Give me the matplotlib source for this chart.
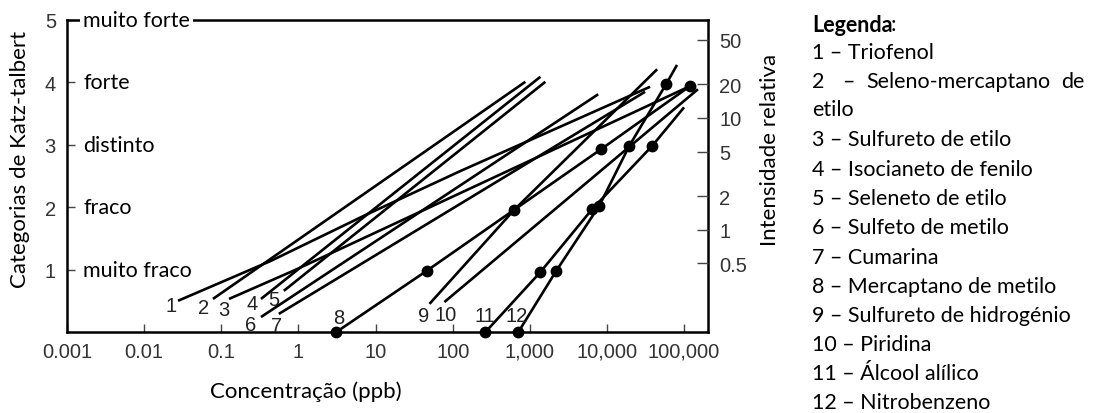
import matplotlib
matplotlib.use("Agg")
import matplotlib.pyplot as plt
import numpy as np

# concentracao (ppb) e categoria Katz-Talbert de cada curva
conc1 = [0.0275, 0.44, 7.0, 126, 2480, 36200]
cat1 = [0.50, 1.14, 1.86, 2.58, 3.29, 3.93]
conc2 = [0.078, 875]
cat2 = [0.53, 4.01]
conc3 = [0.126, 0.93, 119000]
cat3 = [0.53, 1.00, 3.94]
conc4 = [0.327, 1370]
cat4 = [0.53, 4.09]
conc5 = [0.647, 1590]
cat5 = [0.66, 4.01]
conc6 = [0.327, 7700]
cat6 = [0.24, 3.81]
conc7 = [0.557, 31200]
cat7 = [0.29, 3.85]
conc8 = [3.1, 46, 630, 8400, 119000]
cat8 = [0.0, 0.98, 1.96, 2.93, 3.94]
conc9 = [50, 630, 44700]
cat9 = [0.45, 1.96, 4.21]
conc10 = [78, 151000]
cat10 = [0.48, 3.89]
conc11 = [266, 1370, 6440, 38400, 99800]
cat11 = [0.0, 0.96, 1.97, 2.98, 3.6]
conc12 = [710, 2200, 7920, 19400, 58300, 80900]
cat12 = [0.0, 0.98, 2.02, 2.98, 3.97, 4.28]

all_conc = [conc1, conc2, conc3, conc4, conc5, conc6, conc7, conc8, conc9, conc10, conc11, conc12]
all_cat = [cat1, cat2, cat3, cat4, cat5, cat6, cat7, cat8, cat9, cat10, cat11, cat12]
# pontos marcados (indices) em cada curva
dots = {8: [0, 1, 2, 3, 4], 11: [0, 1, 2, 3], 12: [0, 1, 2, 3, 4]}
# deslocamento (pixels) do numero em relacao ao inicio da curva
label_off = [(-7, -5), (-9, -9), (-5, -11), (-9, -5), (-10, -9), (-10, -7),
             (-2, -12), (2, 14), (-6, -12), (1, -12), (-1, 16), (-2, 16)]

categorias = ["muito fraco", "fraco", "distinto", "forte", "muito forte"]
cat_y = [1, 2, 3, 4, 5]
x_ticks = [0.001, 0.01, 0.1, 1, 10, 100, 1000, 10000, 100000]
x_labels = ["0.001", "0.01", "0.1", "1", "10", "100", "1,000", "10,000", "100,000"]
intensidade = [0.5, 1, 2, 5, 10, 20, 50]
int_labels = ["0.5", "1", "2", "5", "10", "20", "50"]

legenda = ["1 – Triofenol", None, "etilo", "3 – Sulfureto de etilo", "4 – Isocianeto de fenilo",
           "5 – Seleneto de etilo", "6 – Sulfeto de metilo", "7 – Cumarina",
           "8 – Mercaptano de metilo", "9 – Sulfureto de hidrogénio", "10 – Piridina",
           "11 – Álcool alílico", "12 – Nitrobenzeno"]

W, H = 1102, 414
FS_TXT = 15.5
fig = plt.figure(figsize=(W / 100, H / 100), dpi=100)
ax = fig.add_axes([67 / W, 1 - 333 / H, (708 - 67) / W, (333 - 21) / H])

ax.set_xscale("log")
ax.set_xlim(0.001, 2.04e5)
ax.set_ylim(0, 5)

for i in range(12):
    n = i + 1
    ax.plot(all_conc[i], all_cat[i], color="black", lw=1.9, solid_capstyle="butt",
            marker="o" if n in dots else None, markevery=dots.get(n),
            markersize=7.5, clip_on=False, zorder=3)
    ax.annotate(str(n), (all_conc[i][0], all_cat[i][0]), xytext=label_off[i],
                textcoords="offset pixels", ha="center", va="center",
                fontsize=14.5, family="Liberation Sans", color="#222222")

# eixos
for s in ax.spines.values():
    s.set_linewidth(1.8)
ax.set_xticks(x_ticks)
ax.set_xticklabels(x_labels)
ax.xaxis.set_minor_locator(matplotlib.ticker.NullLocator())
ax.set_yticks(cat_y)
ax.set_yticklabels([str(v) for v in cat_y])
ax.tick_params(axis="both", direction="in", length=6, width=1.0, labelsize=14.5, color="#444444")
ax.tick_params(axis="x", pad=7)
ax.tick_params(axis="y", pad=8)
for lab in ax.get_xticklabels() + ax.get_yticklabels():
    lab.set_family("Liberation Sans")
    lab.set_color("#333333")

# categorias escritas dentro do grafico
for nome, yv in zip(categorias, cat_y):
    t = ax.text(0.025, yv, nome, transform=ax.get_yaxis_transform(), ha="left", va="center",
                fontsize=FS_TXT, family="Lato", zorder=4)
    if nome == "muito forte":
        t.set_bbox(dict(facecolor="white", edgecolor="none", pad=2))

# eixo direito: intensidade relativa
ax2 = ax.twinx()
ax2.set_ylim(0, 5)
ax2.set_yticks([1.64 + 1.79 * np.log10(v) for v in intensidade])
ax2.set_yticklabels(int_labels)
ax2.tick_params(axis="y", direction="in", length=8, width=1.0, labelsize=14.5, pad=8, color="#444444")
for lab in ax2.get_yticklabels():
    lab.set_family("Liberation Sans")
    lab.set_color("#333333")
for s in ax2.spines.values():
    s.set_visible(False)

fig.text(20 / W, 1 - 159 / H, "Categorias de Katz-talbert", rotation=90, ha="center", va="center",
         fontsize=16, family="Lato")
fig.text(770 / W, 1 - 150 / H, "Intensidade relativa", rotation=90, ha="center", va="center",
         fontsize=16, family="Lato")
fig.text(306 / W, 1 - 392 / H, "Concentração (ppb)", ha="center", va="center",
         fontsize=16, family="Lato")

# legenda em texto
lx = 812 / W
fig.text(lx, 1 - 25 / H, "Legenda", ha="left", va="center", fontsize=FS_TXT, family="Lato", weight="bold")
fig.text(891 / W, 1 - 25 / H, ":", ha="left", va="center", fontsize=FS_TXT, family="Lato")
ys = [53, 82, 110, 140, 170, 199, 228, 258, 287, 316, 345, 374, 403]
for txt, yy in zip(legenda, ys):
    if txt is None:
        fig.text(lx, 1 - yy / H, "2", ha="left", va="center", fontsize=FS_TXT, family="Lato")
        fig.text(842 / W, 1 - yy / H, "–", ha="left", va="center", fontsize=FS_TXT, family="Lato")
        fig.text(866 / W, 1 - yy / H, "Seleno-mercaptano", ha="left", va="center", fontsize=FS_TXT, family="Lato")
        fig.text(1085 / W, 1 - yy / H, "de", ha="right", va="center", fontsize=FS_TXT, family="Lato")
    else:
        fig.text(lx, 1 - yy / H, txt, ha="left", va="center", fontsize=FS_TXT, family="Lato")

fig.savefig("out.png", dpi=100)
